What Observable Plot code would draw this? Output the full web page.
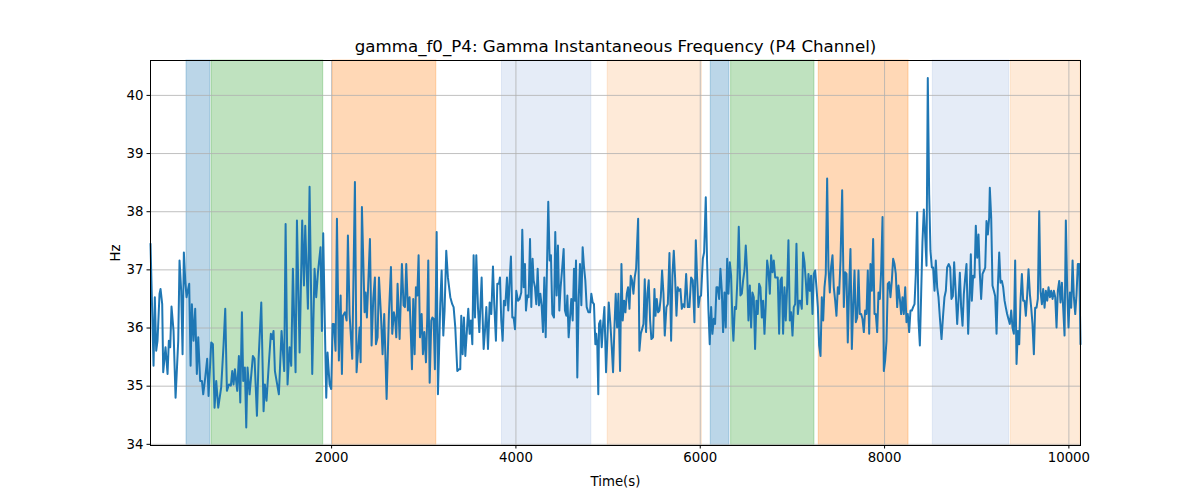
<!DOCTYPE html>
<html>
<head>
<meta charset="utf-8">
<script src="https://cdn.jsdelivr.net/npm/d3@7"></script>
<script src="https://cdn.jsdelivr.net/npm/@observablehq/plot@0.6"></script>
<style>
  html, body { margin: 0; padding: 0; background: #fff; }
  #chart { width: 1200px; height: 500px; }
</style>
</head>
<body>
<div id="chart"></div>
<script>
const title = "gamma_f0_P4: Gamma Instantaneous Frequency (P4 Channel)";
const xLabel = "Time(s)";
const yLabel = "Hz";
const xTicks = [2000, 4000, 6000, 8000, 10000];
const yTicks = [34, 35, 36, 37, 38, 39, 40];

const times = [
35,68,82,97,111,133,144,162,173,198,220,234,249,263,285,307,336,350,368,383,397,412,426,455,470,484,502,520,538,553,574,593,607,629,650,665,694,712,730,748,770,802,828,846,864,886,907,922,936,951,976,994,1009,1027,1041,1059,1074,1088,1110,1146,1164,1190,1208,1237,1262,1276,1294,1320,1341,1356,1370,1385,1428,1457,1486,1501,1522,
1544,1562,1580,1609,1624,1653,1681,1700,1714,1743,1761,1790,1815,1833,1852,1880,1895,1909,1928,1942,1956,1978,1996,2011,2025,2043,2058,2079,2098,2112,2123,2145,2163,2177,2195,2224,2253,2271,2304,2315,2329,2358,2369,2383,2394,2416,2434,2452,2470,2481,2499,2514,2535,2553,2571,2597,2622,2644,2658,2676,2691,2702,2716,2738,2763,2781,2796,2810,2828,2846,2865,2872,2886,2901,2915,2930,2944,2959,2977,2991,3006,3024,3038,3049,3064,3082,3093,3107,3121,3140,3154,3179,3194,3212,3226,3244,
3262,3288,3309,3324,3342,3364,3382,3396,3407,3422,3436,3451,3469,3483,3498,3512,3527,3541,3556,3570,3588,3603,3628,3639,3650,3664,3679,3697,3715,3733,3751,3765,3783,3798,3816,3827,3841,3856,3870,3885,3903,3917,3932,3946,3961,3975,3990,4004,4022,4040,4058,4069,4084,4098,4109,4124,4138,4153,4167,4181,4192,4207,4221,4236,4250,4265,4279,4294,4308,4323,4337,4351,4366,4380,4395,4413,4427,4442,4456,4471,4485,4503,4518,4532,4547,4558,4572,4587,4601,4616,4630,4641,4652,4666,4681,4695,4710,4724,4739,4753,4768,4786,4804,4818,4833,4847,4862,4872,4883,4894,
4902,4917,4931,4946,4960,4978,4993,5007,5025,5040,5054,5069,5083,5098,5112,5130,5145,5159,5174,5188,5203,5217,5232,5246,5260,5275,5289,5304,5326,5340,5355,5369,5384,5398,5412,5427,5441,5456,5470,5488,5503,5514,5528,5543,5557,5572,5586,5601,5615,5633,5648,5666,5684,5698,5713,5727,5742,5756,5771,5785,5800,5814,5829,5847,5865,5883,5901,5919,5937,5952,5966,5980,5995,6009,6028,6042,6060,6074,6089,6103,6118,6132,6147,6161,6176,6190,6205,6219,6234,6248,6263,6277,6292,6306,6321,6335,6350,6360,6375,6389,6404,6418,6436,6451,6465,6480,6494,
6509,6523,6538,6552,6566,6581,6595,6610,6624,6639,6653,6668,6682,6697,6711,6726,6740,6755,6769,6784,6798,6813,6827,6841,6856,6870,6885,6899,6914,6928,6943,6957,6972,6986,7001,7015,7030,7044,7059,7073,7087,7102,7116,7131,7145,7160,7174,7189,7203,7218,7232,7247,7261,7276,7290,7305,7319,7334,7348,7362,7377,7391,7406,7420,7435,7449,7464,7478,7493,7507,7522,7540,7558,7572,7587,7601,7616,7630,7645,7659,7674,7688,7703,7717,7731,7746,7760,7775,7789,7804,7818,7833,7847,7862,7876,7891,7905,7920,7934,7949,7963,7978,7992,8006,8021,8035,8050,8064,8079,8093,8108,8122,8137,8151,8166,8180,8195,8209,8224,8238,8252,8267,8281,8296,8310,8325,8339,8354,8368,8383,
8397,8411,8426,8440,8455,8469,8484,8498,8513,8527,8542,8556,8571,8585,8600,8618,8636,8650,8665,8679,8697,8712,8726,8741,8755,8773,8788,8802,8817,8831,8846,8860,8875,8889,8907,8922,8936,8947,8961,8976,8990,9005,9019,9034,9048,9063,9077,9092,9106,9121,9135,9142,9157,9171,9186,9200,9215,9229,9244,9258,9273,9287,9302,9316,9330,9345,9359,9374,9388,9403,9417,9432,9446,9461,9475,9490,9504,9519,9533,9548,9562,9577,9591,9605,9620,9634,9649,9663,9678,9692,9707,9721,9736,9750,9765,9779,9794,9808,9823,9837,9852,9866,9880,9895,9909,9924,9938,9953,9967,9982,9996,10011,10025,10040,10054,10069,10083,10097,10112,10126
];

const values = [
37.45,35.35,36.53,35.61,35.78,36.59,36.67,36.41,35.24,35.67,35.21,35.78,35.67,36.37,35.95,34.80,35.78,37.16,36.64,35.55,37.30,36.82,36.53,36.76,35.35,36.41,35.78,36.33,35.21,35.84,35.09,35.09,34.86,35.15,35.47,34.83,35.75,35.72,34.63,35.09,34.63,34.98,35.72,36.33,34.92,35.03,35.01,35.26,35.03,35.29,34.92,35.52,34.72,36.27,35.09,35.32,34.29,35.32,34.86,35.52,35.47,34.49,35.47,36.44,34.57,35.03,34.75,35.41,35.90,35.81,35.95,35.26,34.86,35.95,35.26,37.79,35.03,
35.67,35.35,37.02,35.24,37.85,35.58,37.85,36.73,37.76,36.33,38.43,35.21,37.02,36.53,36.96,37.39,35.95,37.63,35.95,34.80,35.58,35.03,34.95,36.07,36.07,35.61,37.88,35.44,36.56,35.21,36.21,36.27,36.13,37.59,36.24,35.47,38.51,35.24,36.01,35.41,38.08,36.27,36.61,36.18,36.61,37.53,35.70,36.50,36.87,35.72,35.84,36.87,36.24,35.55,36.24,34.78,36.24,37.05,35.90,36.27,36.13,35.84,36.76,35.81,37.10,36.39,36.36,37.10,36.30,36.53,35.64,35.29,36.50,35.55,36.70,36.56,37.25,35.84,36.24,35.55,35.93,35.41,36.18,37.16,35.06,36.13,36.18,36.16,35.29,37.65,34.86,36.41,36.99,35.87,36.30,37.33,
36.87,36.53,36.41,36.36,36.01,35.26,35.29,35.29,36.21,35.55,36.18,35.52,35.98,36.33,35.90,36.13,35.72,37.25,36.18,37.25,36.36,35.93,36.87,36.18,35.64,35.95,36.36,35.64,36.44,36.24,37.06,36.41,35.78,36.76,36.76,36.87,36.13,35.78,36.47,36.39,36.87,36.30,36.82,37.23,36.18,36.18,35.98,36.64,36.47,36.50,36.61,37.69,36.70,37.10,36.30,36.56,36.53,37.53,36.36,37.19,36.82,36.70,36.41,37.02,36.39,36.59,36.39,35.93,36.87,35.84,37.05,38.17,37.16,37.25,36.24,36.18,37.65,36.56,37.42,36.30,36.70,37.05,37.36,36.30,36.21,36.56,35.84,36.18,36.50,36.13,37.02,36.47,37.16,35.15,36.50,37.10,36.39,37.39,37.05,36.82,36.36,36.27,36.27,36.59,36.44,36.41,35.72,35.90,35.70,34.86,
36.07,36.13,35.67,36.07,36.36,35.24,35.84,36.44,36.07,35.67,35.24,36.01,36.59,36.01,36.59,35.26,37.10,36.13,36.47,36.27,36.59,36.70,36.33,36.90,36.82,36.59,36.87,37.02,37.88,35.61,35.90,35.98,36.07,36.84,35.93,36.59,36.82,36.13,35.81,35.84,36.67,36.21,36.50,36.27,36.30,36.53,36.99,36.59,35.87,36.36,36.41,37.29,35.78,36.90,37.33,36.87,36.21,36.70,36.64,36.67,36.33,36.41,36.36,36.93,36.36,36.36,36.87,36.82,36.10,37.51,36.87,36.36,36.53,36.56,37.19,37.30,38.25,37.16,36.30,35.72,36.36,35.90,36.16,36.07,36.70,36.70,36.50,37.02,36.64,35.93,36.61,36.01,37.19,36.59,37.13,36.90,36.07,35.78,36.36,36.33,36.87,37.74,36.56,36.59,36.82,36.99,37.42,
36.96,36.13,36.73,36.01,36.61,36.53,35.64,36.47,36.24,36.76,36.70,36.18,36.47,35.90,36.41,37.16,36.99,36.59,37.25,36.96,37.16,36.87,36.87,36.87,35.90,36.82,36.87,35.90,36.70,36.13,36.70,37.51,36.13,36.27,35.87,36.36,36.41,37.45,36.24,36.47,36.47,36.33,37.30,37.13,36.82,36.41,36.93,36.64,36.90,36.24,36.93,36.99,36.70,36.36,35.70,35.52,36.53,36.13,36.70,36.93,38.57,37.05,36.61,37.05,37.25,36.70,36.47,36.21,36.70,36.59,37.16,38.37,36.36,36.96,36.93,35.75,36.70,37.36,35.64,36.36,36.99,36.10,36.18,36.99,36.24,36.24,36.16,35.93,36.30,36.24,36.99,35.90,37.10,36.64,37.53,36.24,36.24,35.93,36.61,36.50,36.99,37.91,35.26,35.44,35.78,36.76,36.79,36.53,36.82,37.19,37.10,36.93,36.36,36.73,36.50,36.24,36.53,36.24,36.70,36.10,36.24,35.93,36.30,36.30,36.36,36.41,36.93,37.99,36.13,35.70,
36.58,37.47,38.04,37.61,37.07,40.30,38.30,37.33,37.04,37.04,36.64,37.16,36.70,36.53,36.18,35.81,36.24,36.53,36.64,37.04,37.10,37.04,36.50,36.55,37.13,36.58,36.07,36.47,36.95,36.35,36.04,36.58,36.87,37.10,35.90,36.53,37.27,36.47,36.90,36.87,37.76,37.21,37.61,36.93,36.50,36.93,36.98,37.04,37.84,37.61,37.90,38.41,37.90,36.73,36.64,36.55,35.90,36.70,37.30,36.78,36.81,36.70,36.47,36.35,36.24,36.15,36.07,36.30,36.01,35.90,37.16,35.38,35.95,35.72,36.47,36.93,36.47,36.47,36.21,36.58,37.01,36.58,36.35,36.07,35.55,36.35,36.35,36.50,38.01,36.64,36.41,36.67,36.35,36.64,36.47,36.70,36.53,36.64,36.50,36.64,36.53,36.01,36.64,36.81,36.44,36.78,36.35,35.87,37.85,36.64,36.01,36.61,36.35,37.16,36.53,36.24,36.58,37.10,37.10,35.72
];

const spanStart = [426, 697, 2014, 3849, 4996, 6114, 6335, 7286, 8524, 9370];
const spanEnd   = [683, 1909, 3136, 4818, 6017, 6317, 7239, 8260, 9352, 10126];
const spanColor = ["#1f77b4", "#2ca02c", "#ff7f0e", "#aec4e6", "#fdb97d", "#1f77b4", "#2ca02c", "#ff7f0e", "#aec4e6", "#fdb97d"];
const spanAlpha = [0.3, 0.3, 0.3, 0.32, 0.3, 0.3, 0.3, 0.3, 0.32, 0.3];

const series = times.map((t, i) => ({t, v: values[i]}));
const spans = spanStart.map((s, i) => ({s, e: spanEnd[i], c: spanColor[i], a: spanAlpha[i]}));

const chart = Plot.plot({
  width: 1200,
  height: 500,
  marginLeft: 150,
  marginRight: 120,
  marginTop: 60,
  marginBottom: 55,
  style: {fontFamily: "DejaVu Sans", fontSize: "13.3px", background: "#fff", color: "#000"},
  x: {domain: [times[0], times[times.length - 1]]},
  y: {domain: [33.98, 40.6]},
  marks: [
    Plot.rect(spans, {x1: "s", x2: "e", fill: "c", fillOpacity: "a", stroke: "c", strokeOpacity: d => d.a, strokeWidth: 1}),
    Plot.gridX(xTicks, {stroke: "#b0b0b0", strokeOpacity: 1, strokeWidth: 0.8}),
    Plot.gridY(yTicks, {stroke: "#b0b0b0", strokeOpacity: 1, strokeWidth: 0.8}),
    Plot.line(series, {x: "t", y: "v", stroke: "#1f77b4", strokeWidth: 2}),
    Plot.frame({stroke: "#000", strokeWidth: 1}),
    Plot.axisX({ticks: xTicks, tickFormat: d => String(d), tickSize: 3.5, tickPadding: 3.5, fontSize: 13.3,
      label: xLabel, labelAnchor: "center", labelArrow: "none", labelOffset: 40}),
    Plot.axisY({ticks: yTicks, tickFormat: d => String(d), tickSize: 3.5, tickPadding: 3.5, fontSize: 13.3,
      label: yLabel, labelAnchor: "center", labelArrow: "none", labelOffset: 40}),
    Plot.text([title], {text: d => d, frameAnchor: "top", dy: -14, fontSize: 16.67, lineAnchor: "middle", fill: "#000"})
  ]
});
document.getElementById("chart").appendChild(chart);
</script>
</body>
</html>
